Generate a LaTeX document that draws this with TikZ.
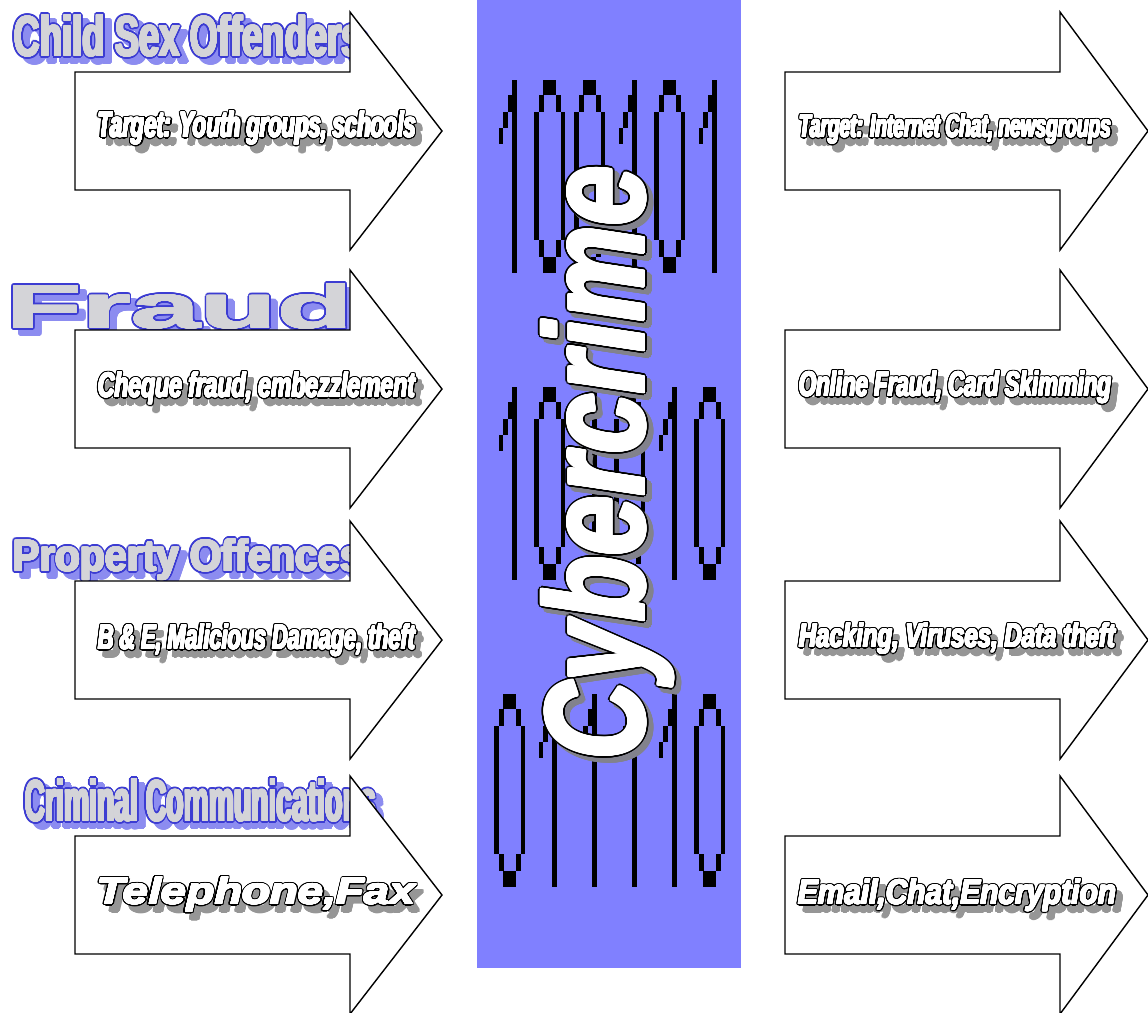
\documentclass[tikz,border=0pt]{standalone}
\usepackage{fontspec}
\setmainfont{Liberation Sans}
\usepackage{graphicx}
\usepackage{contour}
\contournumber{24}

\definecolor{panelblue}{RGB}{128,128,255}
\definecolor{headfill}{RGB}{212,212,216}
\definecolor{headline}{RGB}{60,60,210}
\definecolor{headshadow}{RGB}{140,140,240}
\definecolor{textshadow}{RGB}{150,150,150}
\definecolor{cybershadow}{RGB}{130,130,140}

\tikzset{
  txt/.style={inner sep=0pt, outer sep=0pt, anchor=base west},
  arrowshape/.style={draw=black, fill=white, line width=1.4pt, line join=miter},
  pics/bitzero/.style={code={
    \fill (9,0) rectangle (22,15);
    \fill (5,15) rectangle (10,32);
    \fill (22,15) rectangle (27,32);
    \fill (0,32) rectangle (5,160);
    \fill (26.5,32) rectangle (31,160);
    \fill (5,160) rectangle (10,177);
    \fill (22,160) rectangle (27,177);
    \fill (9,177) rectangle (22,193);
  }},
  pics/bitone/.style={code={
    \fill (18,0) rectangle (22.7,193);
    \fill (14,15) rectangle (18.5,32);
    \fill (9.3,32) rectangle (14.3,48);
    \fill (5.3,48) rectangle (9.3,64);
  }},
}

% block arrow: #1 left x, #2 top of head, #3 tip offset
\newcommand\blockarrow[3]{%
  \draw[arrowshape] (#1,{#2+60}) -- ({#1+275},{#2+60}) -- ({#1+275},#2)
    -- ({#1+#3},{#2+119}) -- ({#1+275},{#2+238}) -- ({#1+275},{#2+178})
    -- (#1,{#2+178}) -- cycle;
}

% a thick contoured copy of a text: colour, contour length, text
\newcommand\thick[3]{{\color{#1}\contourlength{#2}\contour{#1}{#3}}}

% category heading: name, x, baseline, width, cap height, text
\newcommand\headtext[6]{%
  \node[txt] (#1-shadow) at ({#2+7},{#3+6})
    {\thick{headshadow}{2.6pt}{\resizebox{#4pt}{#5pt}{\bfseries #6}}};
  \node[txt] (#1-line) at (#2,#3)
    {\thick{headline}{2.6pt}{\resizebox{#4pt}{#5pt}{\bfseries #6}}};
  \node[txt] (#1) at (#2,#3)
    {\thick{headfill}{0.9pt}{\resizebox{#4pt}{#5pt}{\bfseries #6}}};
}

% label inside an arrow: name, x, baseline, width, cap height, text
\newcommand\armtext[6]{%
  \node[txt] (#1-shadow) at ({#2+6},{#3+7})
    {\thick{textshadow}{2pt}{\resizebox{#4pt}{#5pt}{\bfseries\itshape #6}}};
  \node[txt] (#1-line) at (#2,#3)
    {\thick{black}{2pt}{\resizebox{#4pt}{#5pt}{\bfseries\itshape #6}}};
  \node[txt] (#1) at (#2,#3)
    {\thick{white}{0.6pt}{\resizebox{#4pt}{#5pt}{\bfseries\itshape #6}}};
}

\begin{document}
\begin{tikzpicture}[x=1pt, y=-1pt]
\useasboundingbox (0,0) rectangle (1148,1012);
\fill[white] (0,0) rectangle (1148,1012);

% ---- left column: traditional crime ----
\headtext{child}{14}{56}{348}{41}{Child Sex Offenders}
\headtext{fraud}{6}{328}{347}{44}{Fraud}
\headtext{property}{13}{571}{350}{32}{Property Offences}
\headtext{criminal}{25}{821}{351}{42}{Criminal Communications}

\blockarrow{75}{12}{367}
\blockarrow{75}{270}{367}
\blockarrow{75}{521}{367}
\blockarrow{75}{776}{367}

\armtext{youth}{98}{137}{318}{26}{Target: Youth groups, schools}
\armtext{cheque}{98}{397}{317}{25}{Cheque fraud, embezzlement}
\armtext{bande}{98}{649}{317}{25}{B \& E, Malicious Damage, theft}
\armtext{phone}{97}{904}{318}{27}{Telephone,Fax}

% ---- centre panel ----
\fill[panelblue] (477,0) rectangle (741,968);

% binary digits, three rows of six
\pic at (494,80) {bitone};
\pic at (534,80) {bitzero};
\pic at (574,80) {bitzero};
\pic at (614,80) {bitone};
\pic at (654,80) {bitzero};
\pic at (694,80) {bitone};

\pic at (494,387) {bitone};
\pic at (534,387) {bitzero};
\pic at (574,387) {bitone};
\pic at (614,387) {bitzero};
\pic at (654,387) {bitone};
\pic at (694,387) {bitzero};

\pic at (494,694) {bitzero};
\pic at (534,694) {bitone};
\pic at (574,694) {bitone};
\pic at (614,694) {bitone};
\pic at (654,694) {bitone};
\pic at (694,694) {bitzero};

\node[txt, rotate=90] (cyber-shadow) at (649,765)
  {\thick{cybershadow}{3.4pt}{\resizebox{594pt}{102pt}{\bfseries\itshape Cybercrime}}};
\node[txt, rotate=90] (cyber-line) at (644,760)
  {\thick{black}{3.4pt}{\resizebox{594pt}{102pt}{\bfseries\itshape Cybercrime}}};
\node[txt, rotate=90] (cyber) at (644,760)
  {\thick{white}{1.6pt}{\resizebox{594pt}{102pt}{\bfseries\itshape Cybercrime}}};

% ---- right column: online counterparts ----
\blockarrow{785}{12}{363}
\blockarrow{785}{270}{363}
\blockarrow{785}{521}{363}
\blockarrow{785}{776}{363}

\armtext{chat}{799}{137}{312}{23}{Target: Internet Chat, newsgroups}
\armtext{online}{799}{396}{312}{25}{Online Fraud, Card Skimming}
\armtext{hacking}{799}{647}{316}{24}{Hacking, Viruses, Data theft}
\armtext{email}{798}{904}{318}{25}{Email,Chat,Encryption}
\end{tikzpicture}
\end{document}
